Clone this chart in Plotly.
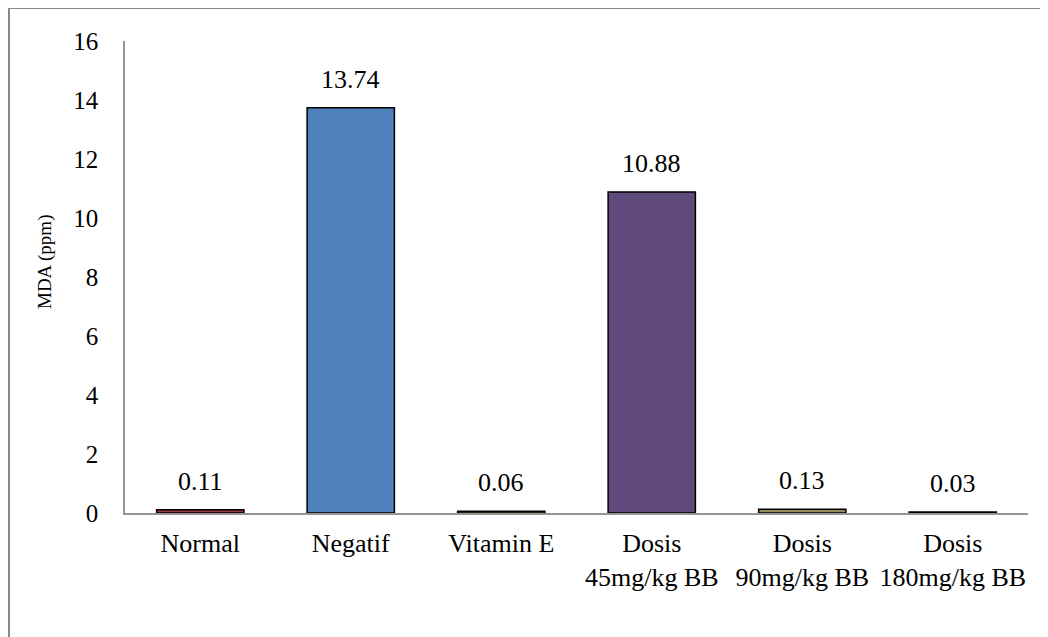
import plotly.graph_objects as go

categories = ["Normal", "Negatif", "Vitamin E", "Dosis<br>45mg/kg BB", "Dosis<br>90mg/kg BB", "Dosis<br>180mg/kg BB"]
values = [0.11, 13.74, 0.06, 10.88, 0.13, 0.03]
labels = ["0.11", "13.74", "0.06", "10.88", "0.13", "0.03"]
colors = ["#953735", "#4F81BD", "#77933C", "#604A7B", "#948A54", "#7F7F7F"]
y_ticks = [0, 2, 4, 6, 8, 10, 12, 14, 16]

FONT = "Liberation Serif"

# page offset of the figure (browser body margin)
OFF = 8
W, H = 1048, 637
L, R, T, B = 125 - OFF, W - 1028 + OFF, 41 - OFF, H - 513 + OFF

fig = go.Figure(go.Bar(
    x=categories, y=values,
    marker=dict(color=colors, line=dict(color="#000000", width=1.5)),
    width=0.58,
))

annotations = []
for c, v, t in zip(categories, values, labels):
    annotations.append(dict(x=c, y=v, xref="x", yref="y", text=t, showarrow=False,
                            yanchor="bottom", yshift=12,
                            font=dict(family=FONT, size=26, color="#000")))

pw = W - L - R
ph = H - T - B
def px_x(px):
    return (px - OFF - L) / pw
def px_y(py):
    return (H - B - (py - OFF)) / ph

annotations.append(dict(text="MDA (ppm)", x=px_x(45), y=px_y(262), xref="paper", yref="paper",
                        xanchor="center", yanchor="middle",
                        showarrow=False, textangle=-90,
                        font=dict(family=FONT, size=19, color="#000")))

fig.update_layout(
    width=W, height=H,
    margin=dict(l=L, r=R, t=T, b=B),
    paper_bgcolor="white", plot_bgcolor="white",
    font=dict(family=FONT, size=24, color="#000"),
    showlegend=False,
    xaxis=dict(showline=True, linecolor="#959595", linewidth=1.5, ticks="", automargin=False,
               tickfont=dict(family=FONT, size=26), ticklabelstandoff=6),
    yaxis=dict(range=[0, 16], tickvals=y_ticks, showline=True, linecolor="#959595", automargin=False,
               linewidth=1.5, showgrid=False, zeroline=False, ticks="",
               tickfont=dict(family=FONT, size=25), ticklabelstandoff=20),
    annotations=annotations,
    shapes=[
        dict(type="line", xref="paper", yref="paper", x0=px_x(8), x1=px_x(1080), y0=px_y(8), y1=px_y(8),
             line=dict(color="#898989", width=2)),
        dict(type="line", xref="paper", yref="paper", x0=px_x(9), x1=px_x(9), y0=px_y(8), y1=px_y(700),
             line=dict(color="#898989", width=2)),
    ],
)

fig.write_html("out.html")
